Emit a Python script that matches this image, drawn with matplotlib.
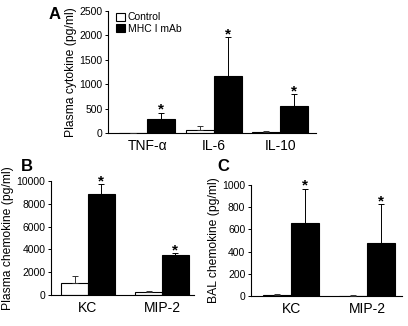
import numpy as np
import matplotlib
matplotlib.use('Agg')
import matplotlib.pyplot as plt

plt.rcParams['font.family'] = ['Liberation Sans', 'DejaVu Sans']

# Panel A: plasma cytokines
cyto_labels = ['TNF-\u03b1', 'IL-6', 'IL-10']
cyto_ctrl = [5, 65, 22]
cyto_ctrl_err = [3, 70, 25]
cyto_mab = [280, 1165, 555]
cyto_mab_err = [135, 800, 245]

# Panel B: plasma chemokines
pchem_labels = ['KC', 'MIP-2']
pchem_ctrl = [1030, 280]
pchem_ctrl_err = [640, 100]
pchem_mab = [8850, 3520]
pchem_mab_err = [880, 130]

# Panel C: BAL chemokines
bchem_labels = ['KC', 'MIP-2']
bchem_ctrl = [10, 3]
bchem_ctrl_err = [8, 2]
bchem_mab = [655, 480]
bchem_mab_err = [310, 345]


def bar_panel(ax, labels, ctrl, ctrl_err, mab, mab_err, width, ymax, step,
              ylabel, xlim, star_pad):
    x = np.arange(len(labels))
    ax.bar(x - width / 2, ctrl, width, color='white', edgecolor='black',
           linewidth=0.8, label='Control', zorder=2)
    ax.bar(x + width / 2, mab, width, color='black', edgecolor='black',
           linewidth=0.8, label='MHC I mAb', zorder=2)
    # barras de error solo hacia arriba
    ax.errorbar(x - width / 2, ctrl, yerr=[np.zeros(len(x)), ctrl_err],
                fmt='none', ecolor='#333333', elinewidth=0.7, capsize=2.5,
                capthick=0.7, zorder=3)
    ax.errorbar(x + width / 2, mab, yerr=[np.zeros(len(x)), mab_err],
                fmt='none', ecolor='black', elinewidth=0.7, capsize=2.5,
                capthick=0.7, zorder=1)
    for xi, v, e in zip(x, mab, mab_err):
        ax.annotate('*', (xi + width / 2, v + e), xytext=(0, star_pad),
                    textcoords='offset points', ha='center', va='bottom',
                    fontsize=11, fontweight='bold')
    ax.set_ylim(0, ymax)
    ax.set_yticks(np.arange(0, ymax + 1, step))
    ax.set_xlim(*xlim)
    ax.set_xticks(x)
    ax.set_xticklabels(labels, fontsize=10)
    ax.tick_params(axis='x', length=0, pad=4)
    ax.tick_params(axis='y', labelsize=7.5, length=2.5, width=0.7, pad=1.5)
    ax.set_ylabel(ylabel, fontsize=8.7, labelpad=1.5)
    for s in ['top', 'right']:
        ax.spines[s].set_visible(False)
    for s in ['left', 'bottom']:
        ax.spines[s].set_linewidth(0.8)


fig = plt.figure(figsize=(4.08, 3.26), dpi=100)

ax_a = fig.add_axes([0.2647, 0.592, 0.510, 0.374])
bar_panel(ax_a, cyto_labels, cyto_ctrl, cyto_ctrl_err, cyto_mab, cyto_mab_err,
          0.42, 2500, 500, 'Plasma cytokine (pg/ml)', (-0.59, 2.54), -3)
ax_a.legend(loc='upper left', bbox_to_anchor=(0.01, 1.04), frameon=False,
            fontsize=7.5, handlelength=0.8, handleheight=0.8,
            handletextpad=0.3, labelspacing=0.15, borderaxespad=0.2)

ax_b = fig.add_axes([0.125, 0.095, 0.350, 0.350])
bar_panel(ax_b, pchem_labels, pchem_ctrl, pchem_ctrl_err, pchem_mab,
          pchem_mab_err, 0.36, 10000, 2000, 'Plasma chemokine (pg/ml)',
          (-0.5, 1.43), -3)

ax_c = fig.add_axes([0.615, 0.092, 0.370, 0.341])
bar_panel(ax_c, bchem_labels, bchem_ctrl, bchem_ctrl_err, bchem_mab,
          bchem_mab_err, 0.37, 1000, 200, 'BAL chemokine (pg/ml)',
          (-0.53, 1.46), -3)

fig.text(0.118, 0.955, 'A', fontsize=12, fontweight='bold', va='center')
fig.text(0.05, 0.49, 'B', fontsize=12, fontweight='bold', va='center')
fig.text(0.532, 0.49, 'C', fontsize=12, fontweight='bold', va='center')

fig.savefig('out.png', dpi=100)
